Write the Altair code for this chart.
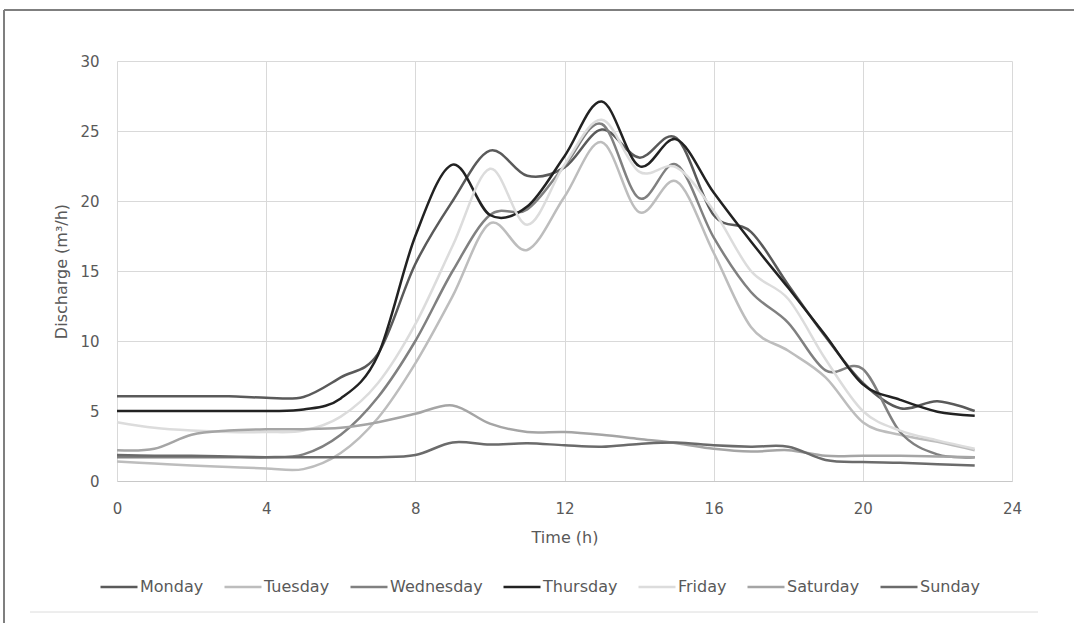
import altair as alt
import pandas as pd

# Hourly discharge per weekday (m³/h)
hours = list(range(24))
days = ["Monday", "Tuesday", "Wednesday", "Thursday", "Friday", "Saturday", "Sunday"]

monday = [6.05, 6.05, 6.05, 6.05, 5.95, 6.0, 7.4, 9.1, 15.5, 20.0, 23.6, 21.8,
          22.4, 25.1, 23.1, 24.5, 19.0, 17.8, 14.0, 10.3, 7.0, 5.2, 5.7, 5.0]
tuesday = [1.4, 1.25, 1.1, 1.0, 0.9, 0.85, 2.0, 4.5, 8.4, 13.2, 18.4, 16.5,
           20.3, 24.2, 19.2, 21.4, 16.3, 11.0, 9.3, 7.4, 4.2, 3.3, 2.8, 2.2]
wednesday = [1.7, 1.7, 1.7, 1.7, 1.7, 1.9, 3.3, 6.0, 10.0, 15.0, 19.0, 19.4,
             22.5, 25.5, 20.2, 22.6, 17.4, 13.5, 11.3, 7.9, 8.0, 3.5, 1.9, 1.7]
thursday = [5.0, 5.0, 5.0, 5.0, 5.0, 5.1, 5.9, 9.0, 17.5, 22.6, 19.0, 19.6,
            23.2, 27.1, 22.5, 24.4, 20.6, 17.1, 13.8, 10.4, 6.9, 5.8, 4.95, 4.66]
friday = [4.2, 3.8, 3.6, 3.5, 3.5, 3.6, 4.6, 7.0, 11.2, 16.8, 22.3, 18.3,
          22.6, 25.8, 22.1, 22.4, 19.3, 15.0, 13.0, 8.7, 5.0, 3.6, 2.9, 2.3]
saturday = [2.2, 2.3, 3.3, 3.6, 3.7, 3.7, 3.8, 4.2, 4.8, 5.4, 4.1, 3.5,
            3.5, 3.3, 3.0, 2.7, 2.3, 2.1, 2.2, 1.8, 1.8, 1.8, 1.75, 1.7]
sunday = [1.85, 1.8, 1.8, 1.75, 1.7, 1.7, 1.7, 1.7, 1.85, 2.75, 2.6, 2.7,
          2.55, 2.45, 2.65, 2.75, 2.55, 2.45, 2.45, 1.5, 1.35, 1.3, 1.2, 1.1]

series = [monday, tuesday, wednesday, thursday, friday, saturday, sunday]
colors = ["#5a5a5a", "#bdbdbd", "#808080", "#222222", "#dcdcdc", "#a5a5a5", "#6b6b6b"]

x_ticks = [0, 4, 8, 12, 16, 20, 24]
y_ticks = [0, 5, 10, 15, 20, 25, 30]

rows = []
for day, values in zip(days, series):
    for h, v in zip(hours, values):
        rows.append({"hour": h, "discharge": v, "day": day})
df = pd.DataFrame(rows)

text_color = "#595959"
font = "DejaVu Sans"

lines = alt.Chart(df).mark_line(
    interpolate="cardinal", tension=0, strokeWidth=2.5
).encode(
    x=alt.X(
        "hour:Q",
        scale=alt.Scale(domain=[0, 24], nice=False),
        axis=alt.Axis(
            values=x_ticks, title="Time (h)", grid=True, gridColor="#d9d9d9",
            domainColor="#c8c8c8", ticks=False, labelPadding=20, labelFlush=False,
            titlePadding=13, labelFontSize=15, titleFontSize=16,
            titleFontWeight="normal", labelColor=text_color, titleColor=text_color,
            labelFont=font, titleFont=font,
        ),
    ),
    y=alt.Y(
        "discharge:Q",
        scale=alt.Scale(domain=[0, 30], nice=False),
        axis=alt.Axis(
            values=y_ticks, title="Discharge (m³/h)", grid=True, gridColor="#d9d9d9",
            domain=False, ticks=False, labelPadding=18, titlePadding=10,
            labelFontSize=15, titleFontSize=16, titleFontWeight="normal",
            labelColor=text_color, titleColor=text_color,
            labelFont=font, titleFont=font,
        ),
    ),
    color=alt.Color(
        "day:N",
        sort=days,
        scale=alt.Scale(domain=days, range=colors),
        legend=alt.Legend(
            title=None, orient="none", legendX=-18, legendY=506,
            direction="horizontal", symbolType="stroke", symbolSize=1369,
            symbolStrokeWidth=2.5, labelOffset=1, columnPadding=15,
            labelFontSize=16, labelColor=text_color, labelFont=font,
        ),
    ),
)

# Frame decoration around the chart area
frame_src = pd.DataFrame({"k": [0]})
top_edge = alt.Chart(frame_src).mark_rule(color="#7f7f7f", strokeWidth=2).encode(
    x=alt.value(-113), x2=alt.value(957), y=alt.value(-51)
)
left_edge = alt.Chart(frame_src).mark_rule(color="#7f7f7f", strokeWidth=2).encode(
    x=alt.value(-113), y=alt.value(-51), y2=alt.value(562)
)
bottom_edge = alt.Chart(frame_src).mark_rule(color="#dcdcdc", strokeWidth=1).encode(
    x=alt.value(-87), x2=alt.value(921), y=alt.value(551)
)

chart = alt.layer(lines, top_edge, left_edge, bottom_edge).properties(
    width=895,
    height=420,
    padding={"left": 117, "top": 61, "right": 62, "bottom": 142},
    autosize=alt.AutoSizeParams(type="none"),
    background="white",
).configure_view(stroke=None)

chart.save("out.html", embed_options={"renderer": "svg", "actions": False})
